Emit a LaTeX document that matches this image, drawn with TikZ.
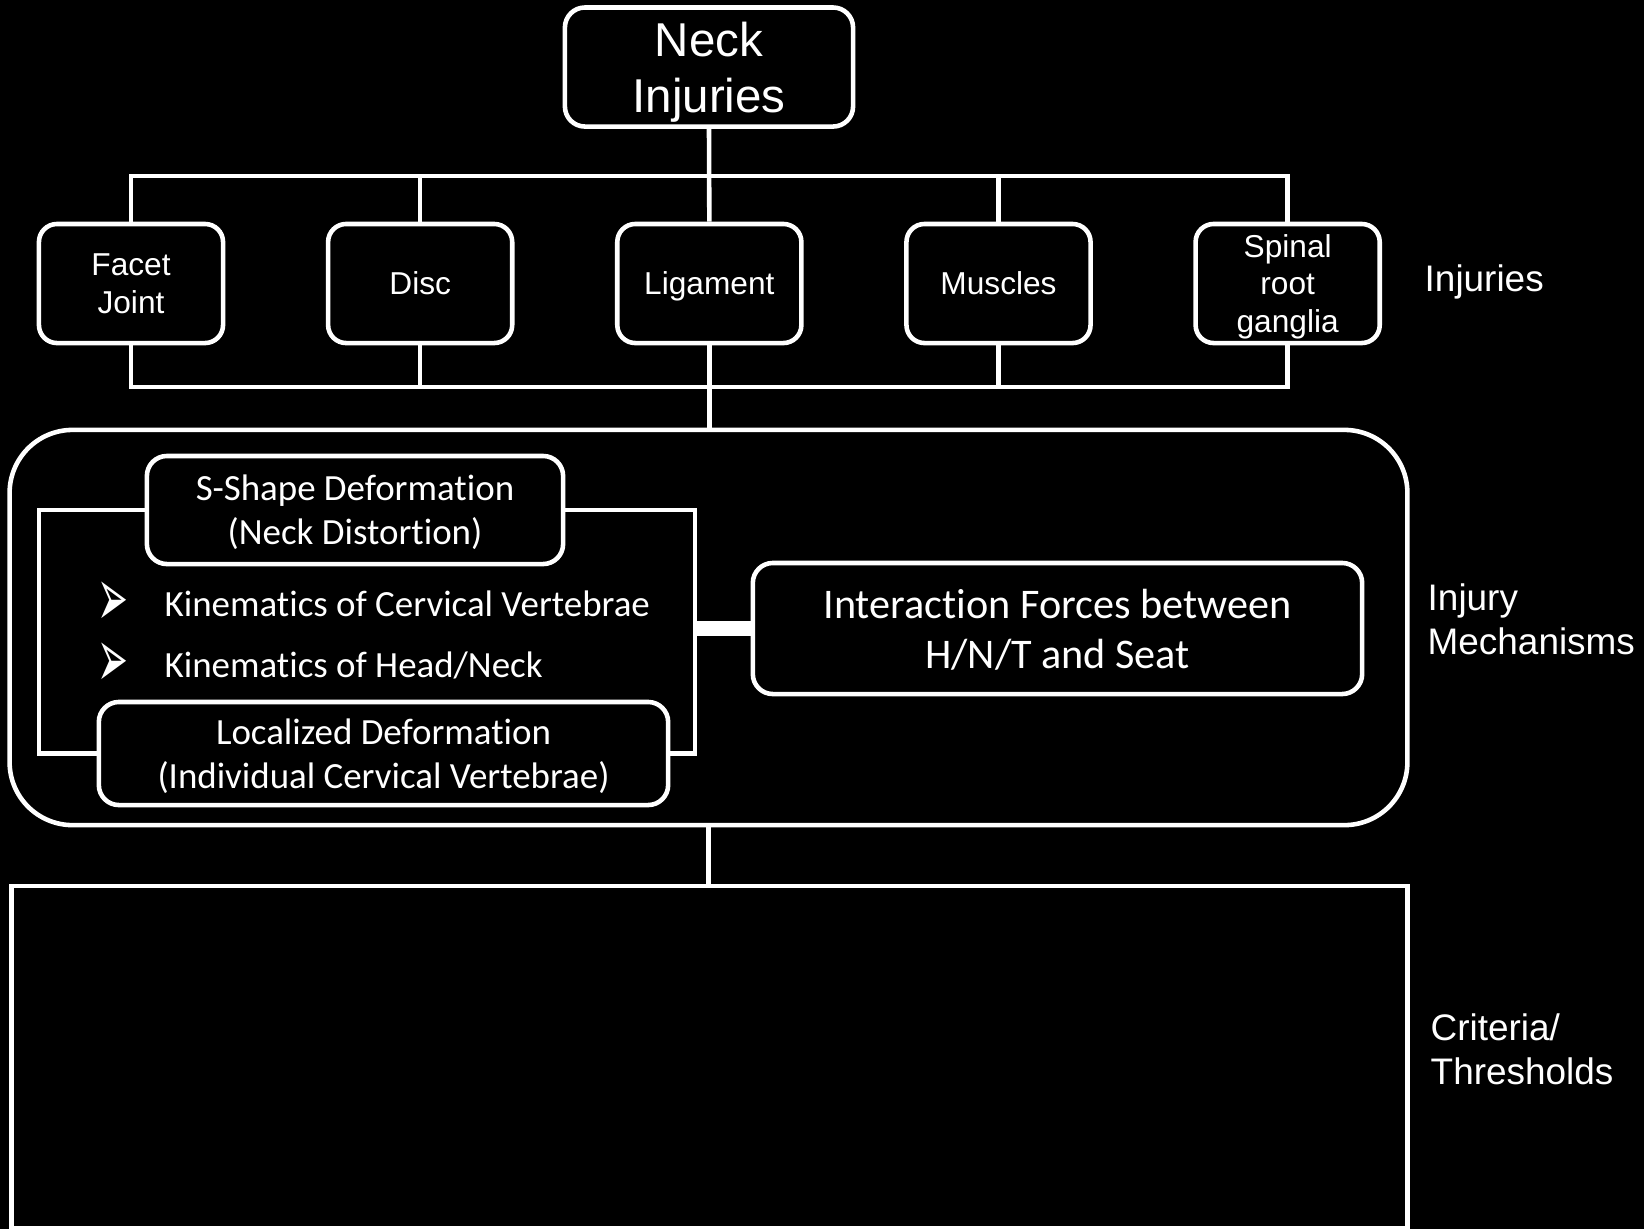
\documentclass[tikz,border=0pt]{standalone}
\usepackage{fontspec}
\setmainfont{Liberation Sans}
\newfontfamily\calibri[Ligatures=NoCommon]{Carlito}
\newfontfamily\dingfont{DejaVu Sans}
\usetikzlibrary{positioning}

\begin{document}
\begin{tikzpicture}[x=0.01cm, y=-0.01cm, node distance = {28.9mm},
    injury/.style = {draw=white, line width=1.3pt, rounded corners=1.8mm, minimum width=18.4mm, minimum height=11.9mm, inner sep=0pt, text depth=0pt, align=center, text=white, font=\fontsize{9}{10.8}\selectfont},
    mech/.style = {draw=white, line width=1.3pt, rounded corners=2mm, text depth=0pt, align=center, text=white, font=\calibri\fontsize{10.5}{12.5}\selectfont},
    bullet/.style = {anchor=west, inner sep=0pt, text=white, font=\calibri\fontsize{10.5}{12.5}\selectfont},
    arrowmark/.style = {inner sep=0pt, text=white, font=\dingfont\fontsize{14}{16}\selectfont},
    sidetext/.style = {anchor=west, inner sep=0pt, align=left, text=white, font=\fontsize{10.5}{12.5}\selectfont},
    link/.style = {draw=white, line width=1.3pt}]
    \useasboundingbox (0,0) rectangle (1644,1229);
    \fill[black] (0,0) rectangle (1644,1229);

    % injuries
    \node[injury, minimum width=28.8mm, rounded corners=2mm, font=\fontsize{13.5}{16}\selectfont] (neck) at (709,67) {Neck\\Injuries};
    \node[injury] (facet) at (131,283.5) {Facet\\Joint};
    \node[injury] (disc) [right of=facet] {Disc};
    \node[injury] (ligament) [right of=disc] {Ligament};
    \node[injury] (muscles) [right of=ligament] {Muscles};
    \node[injury] (spinal) [right of=muscles] {Spinal\\root\\ganglia};
    \node[sidetext] (lblinj) at (1424,282) {Injuries};

    \coordinate (topbus) at (709,176);
    \coordinate (botbus) at (709,387);
    \draw[link] (facet.north) |- (topbus) -| (spinal.north);
    \draw[link] (disc.north) -- (disc.north |- topbus);
    \draw[link] (muscles.north) -- (muscles.north |- topbus);
    \draw[link] (neck.south) -- (ligament.north);
    \draw[link] (facet.south) |- (botbus) -| (spinal.south);
    \draw[link] (disc.south) -- (disc.south |- botbus);
    \draw[link] (muscles.south) -- (muscles.south |- botbus);

    % mechanisms
    \node[mech, rounded corners=6.3mm, minimum width=139.7mm, minimum height=39.5mm] (mechbox) at (708.5,627.5) {};
    \draw[link] (ligament.south) -- (ligament.south |- mechbox.north);
    \node[mech, minimum width=41.6mm, minimum height=10.8mm] (sshape) at (355,510) {S-Shape Deformation\\(Neck Distortion)};
    \node[mech, minimum width=56.9mm, minimum height=10.3mm] (local) at (383.5,753.5) {Localized Deformation\\(Individual Cervical Vertebrae)};
    \node[bullet] (kincv) at (164,604) {Kinematics of Cervical Vertebrae};
    \node[bullet] (kinhn) at (164,665) {Kinematics of Head/Neck};
    \node[arrowmark] (arrcv) [left=3.5mm of kincv] {\scalebox{0.75}[1.7]{➢}};
    \node[arrowmark] (arrhn) [left=3.5mm of kinhn] {\scalebox{0.75}[1.7]{➢}};

    \coordinate (brkl) at (39,632);
    \coordinate (brkr) at (695,632);
    \draw[link] (sshape.west) -| (brkl |- local.west) -- (local.west);
    \draw[link] (sshape.east) -| (brkr |- local.east) -- (local.east);

    \node[mech, minimum width=60.9mm, minimum height=13.1mm, font=\calibri\fontsize{12}{14.3}\selectfont] (interact) at (1057.5,628.5) {Interaction Forces between\\H/N/T and Seat};
    \draw[draw=white, line width=4.5pt] (interact.west) -- (brkr |- interact.west);
    \node[sidetext] (lblmech) at (1427,619) {Injury\\Mechanisms};

    % criteria
    \node[draw=white, line width=1.3pt, inner sep=0pt, minimum width=139.5mm, minimum height=34.2mm] (critbox) at (709.5,1057) {};
    \draw[link] (mechbox.south) -- (mechbox.south |- critbox.north);
    \node[sidetext] (lblcrit) at (1430,1049) {Criteria/\\Thresholds};
\end{tikzpicture}
\end{document}
